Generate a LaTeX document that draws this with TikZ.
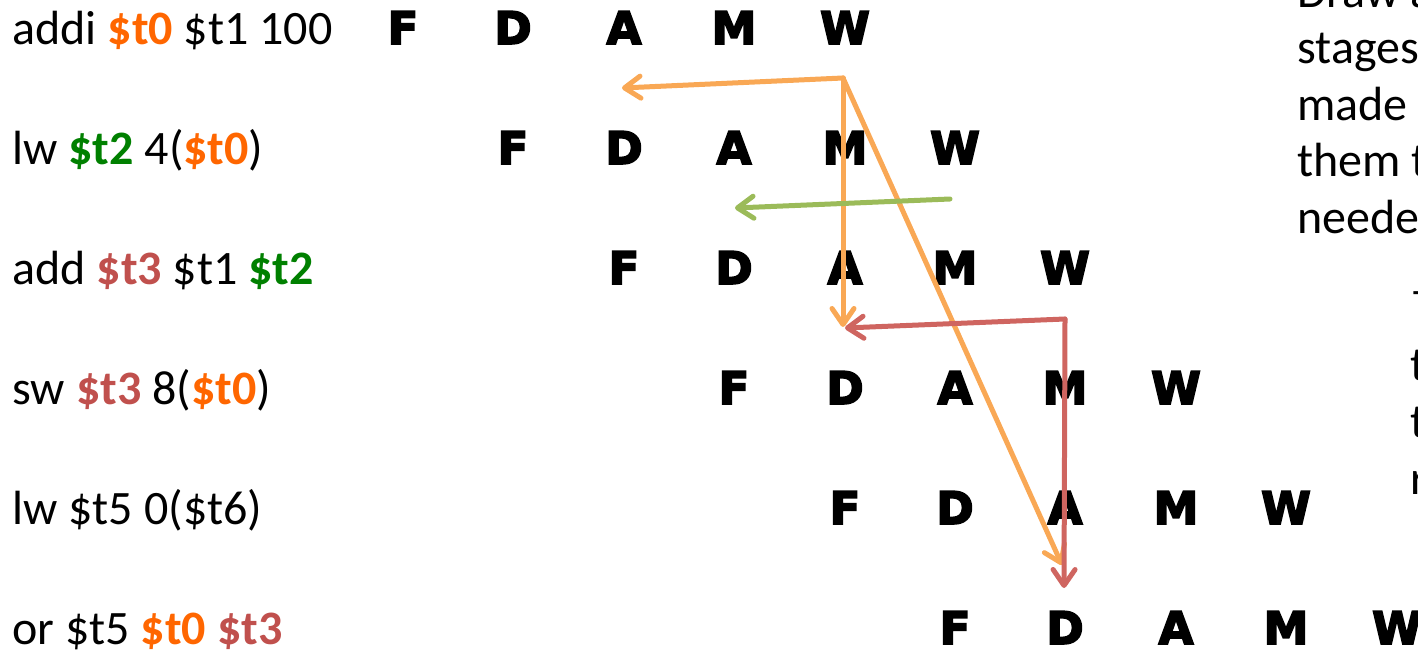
\documentclass[tikz,border=0pt]{standalone}
\usepackage{fontspec}
\setmainfont{Carlito}
\newfontfamily\stagefont{DejaVu Sans}[BoldFeatures={FakeBold=4}]
\usetikzlibrary{arrows.meta}
\definecolor{RegOrange}{RGB}{255,102,0}
\definecolor{RegGreen}{RGB}{0,128,0}
\definecolor{RegRed}{RGB}{192,80,77}
\definecolor{FwdOrange}{RGB}{249,168,85}
\definecolor{FwdGreen}{RGB}{155,187,89}
\definecolor{FwdRed}{RGB}{207,101,96}
\newcommand{\regtext}[2]{{\bfseries\color{#1}#2}}

\begin{document}
\begin{tikzpicture}[x=0.5pt,y=-0.5pt,
instr/.style={anchor=base west,inner sep=0pt,font=\fontsize{24}{28}\selectfont},
stage/.style={anchor=base,inner sep=0pt,font=\stagefont\bfseries\fontsize{22.5}{26}\selectfont},
fwd/.style={-{Straight Barb[length=8pt,width=11pt,round]},line width=2.5pt,line cap=round,line join=round}
]
\clip (0,0) rectangle (1418,653);
\node[instr] (addi) at (12,44) {addi \regtext{RegOrange}{\$t0} \$t1 100};
\node[instr] (lw) at (12,164) {lw \regtext{RegGreen}{\$t2} 4(\regtext{RegOrange}{\$t0})};
\node[instr] (add) at (12,284) {add \regtext{RegRed}{\$t3} \$t1 \regtext{RegGreen}{\$t2}};
\node[instr] (sw) at (12,404) {sw \regtext{RegRed}{\$t3} 8(\regtext{RegOrange}{\$t0})};
\node[instr] (lwb) at (12,524) {lw \$t5 0(\$t6)};
\node[instr] (or) at (12,644) {or \$t5 \regtext{RegOrange}{\$t0} \regtext{RegRed}{\$t3}};

\node[stage] (f1) at (403,44) {F}; \node[stage] (d1) at (513,44) {D}; \node[stage] (a1) at (624,44) {A}; \node[stage] (m1) at (734,44) {M}; \node[stage] (w1) at (845,44) {W};
\node[stage] (f2) at (513,164) {F}; \node[stage] (d2) at (624,164) {D}; \node[stage] (a2) at (734,164) {A}; \node[stage] (m2) at (845,164) {M}; \node[stage] (w2) at (955,164) {W};
\node[stage] (f3) at (624,284) {F}; \node[stage] (d3) at (734,284) {D}; \node[stage] (a3) at (845,284) {A}; \node[stage] (m3) at (955,284) {M}; \node[stage] (w3) at (1065,284) {W};
\node[stage] (f4) at (734,404) {F}; \node[stage] (d4) at (845,404) {D}; \node[stage] (a4) at (955,404) {A}; \node[stage] (m4) at (1065,404) {M}; \node[stage] (w4) at (1176,404) {W};
\node[stage] (f5) at (845,524) {F}; \node[stage] (d5) at (955,524) {D}; \node[stage] (a5) at (1065,524) {A}; \node[stage] (m5) at (1176,524) {M}; \node[stage] (w5) at (1286,524) {W};
\node[stage] (f6) at (955,644) {F}; \node[stage] (d6) at (1065,644) {D}; \node[stage] (a6) at (1176,644) {A}; \node[stage] (m6) at (1286,644) {M}; \node[stage] (w6) at (1397,644) {W};

\node[instr] (q1) at (1297,7) {Draw a};
\node[instr] (q2) at (1297,63) {stages};
\node[instr] (q3) at (1297,120) {made};
\node[instr] (q4) at (1297,176) {them t};
\node[instr] (q5) at (1297,233) {neede};
\node[instr] (s1) at (1410,306) {–};
\node[instr] (s2) at (1410,380) {t};
\node[instr] (s3) at (1410,437) {t};
\node[instr] (s4) at (1410,494) {r};

\coordinate (o0) at (843,78); \coordinate (o1) at (622,88); \coordinate (o2) at (843,327); \coordinate (o3) at (1062,565);
\coordinate (g0) at (950,199); \coordinate (g1) at (735,208);
\coordinate (r0) at (1065,319); \coordinate (r1) at (845,328); \coordinate (r2) at (1064,588);
\draw[fwd,FwdOrange] (o0)--(o1); \draw[fwd,FwdOrange] (o0)--(o2); \draw[fwd,FwdOrange] (o0)--(o3);
\draw[fwd,FwdGreen] (g0)--(g1);
\draw[fwd,FwdRed] (r0)--(r1); \draw[fwd,FwdRed] (r0)--(r2);
\end{tikzpicture}
\end{document}
